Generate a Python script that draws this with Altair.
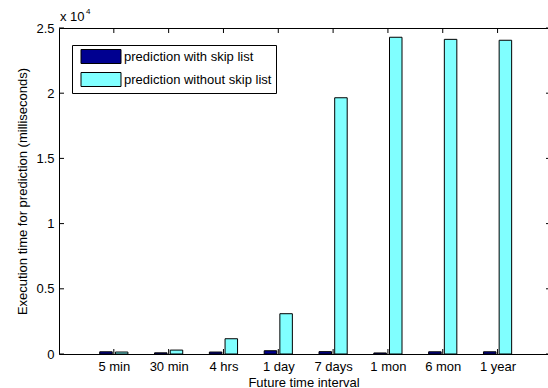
import altair as alt
import pandas as pd

# Future time intervals on the x axis
categories = ["5 min", "30 min", "4 hrs", "1 day", "7 days", "1 mon", "6 mon", "1 year"]
# Execution time for prediction (milliseconds)
with_skip = [170, 90, 150, 250, 180, 80, 170, 170]
without_skip = [150, 300, 1170, 3090, 19650, 24290, 24130, 24060]
series_names = ["prediction with skip list", "prediction without skip list"]
series_colors = ["#000090", "#80FFFF"]
y_ticks = [0, 5000, 10000, 15000, 20000, 25000]

W, H = 489, 326
FONT = "Liberation Sans"
FS = 13

# grouped bar geometry in category units
group_offsets = [-0.143, 0.143]
half_bar = 0.114

rows = []
for s, (name, vals) in enumerate(zip(series_names, [with_skip, without_skip])):
    for i, v in enumerate(vals):
        pos = i + 1
        rows.append({
            "series": name,
            "category": categories[i],
            "value": v,
            "left": pos + group_offsets[s] - half_bar,
            "right": pos + group_offsets[s] + half_bar,
        })
bars_df = pd.DataFrame(rows)
ytick_df = pd.DataFrame({"v": y_ticks})
xtick_df = pd.DataFrame({"pos": list(range(1, len(categories) + 1))})

xscale = alt.Scale(domain=[0, 8.92], nice=False, zero=False)
yscale = alt.Scale(domain=[0, 25000], nice=False)

label_js = "[" + ",".join("'%s'" % c for c in categories) + "]"

# wide legend swatch: 14 px unit symbol stretched to the right
swatch = "M-0.357,-1L5.357,-1L5.357,1L-0.357,1Z"

bars = alt.Chart(bars_df).mark_bar(stroke="black", strokeWidth=1).encode(
    x=alt.X("left:Q", scale=xscale,
            axis=alt.Axis(values=list(range(1, len(categories) + 1)),
                          labelExpr=label_js + "[datum.value - 1]",
                          title="Future time interval", grid=False, domain=False,
                          ticks=False, labelPadding=6, titlePadding=3,
                          labelFlush=False)),
    x2="right:Q",
    y=alt.Y("value:Q", scale=yscale,
            axis=alt.Axis(values=y_ticks, labelExpr="datum.value / 10000",
                          title="Execution time for prediction (milliseconds)",
                          grid=False, domain=False, ticks=False, labelPadding=5,
                          titlePadding=6)),
    y2=alt.datum(0),
    color=alt.Color("series:N", scale=alt.Scale(domain=series_names, range=series_colors),
                    legend=alt.Legend(
                        title=None, orient="none", legendX=13, legendY=17,
                        symbolType=swatch,
                        symbolSize=196, symbolStrokeColor="black", symbolStrokeWidth=1,
                        labelFont=FONT, labelFontSize=FS, labelColor="black",
                        labelOffset=33, rowPadding=4, padding=4,
                        strokeColor="black", fillColor="white", cornerRadius=0)),
)

# inward tick marks on all four sides
left_ticks = alt.Chart(ytick_df).mark_rule(color="black", strokeWidth=1).encode(
    y=alt.Y("v:Q", scale=yscale), x=alt.value(0), x2=alt.value(5))
right_ticks = alt.Chart(ytick_df).mark_rule(color="black", strokeWidth=1).encode(
    y=alt.Y("v:Q", scale=yscale), x=alt.value(W - 2), x2=alt.value(W))
bottom_ticks = alt.Chart(xtick_df).mark_rule(color="black", strokeWidth=1).encode(
    x=alt.X("pos:Q", scale=xscale), y=alt.value(H), y2=alt.value(H - 5))
top_ticks = alt.Chart(xtick_df).mark_rule(color="black", strokeWidth=1).encode(
    x=alt.X("pos:Q", scale=xscale), y=alt.value(0), y2=alt.value(5))

# axis exponent "x 10^4"
exp_base = alt.Chart(pd.DataFrame({"t": ["x 10"]})).mark_text(
    align="left", baseline="alphabetic", font=FONT, fontSize=FS, color="black"
).encode(text="t:N", x=alt.value(1), y=alt.value(-7))
exp_pow = alt.Chart(pd.DataFrame({"t": ["4"]})).mark_text(
    align="left", baseline="alphabetic", font=FONT, fontSize=8, color="black"
).encode(text="t:N", x=alt.value(27), y=alt.value(-14))

chart = alt.layer(bars, left_ticks, right_ticks, bottom_ticks, top_ticks, exp_base, exp_pow).properties(
    width=W, height=H,
    background="white",
    autosize=alt.AutoSizeParams(type="none"),
    padding={"left": 59, "top": 28, "right": 0, "bottom": 34},
).configure_view(
    stroke="black", strokeWidth=1
).configure_axis(
    labelFont=FONT, labelFontSize=FS, labelColor="black",
    titleFont=FONT, titleFontSize=FS, titleColor="black", titleFontWeight="normal",
)

chart.save("out.html", embed_options={"renderer": "svg", "actions": False})
